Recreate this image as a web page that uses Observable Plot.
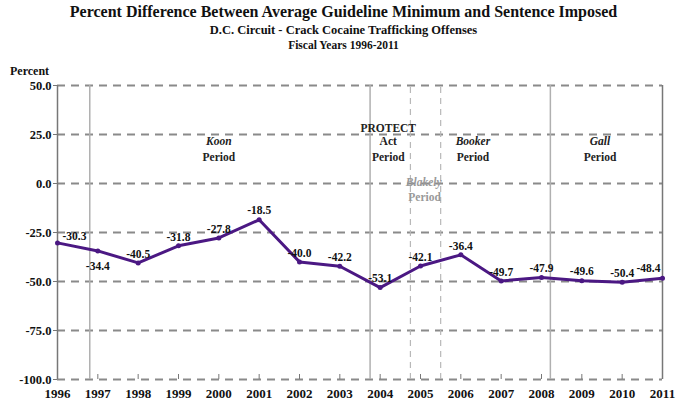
<!DOCTYPE html>
<html>
<head>
<meta charset="utf-8">
<script src="https://cdn.jsdelivr.net/npm/d3@7"></script>
<script src="https://cdn.jsdelivr.net/npm/@observablehq/plot@0.6"></script>
<style>
  body { margin: 0; background: #fff; }
  #wrap { position: relative; width: 677px; height: 403px; font-family: "Liberation Serif", "Times New Roman", serif; font-weight: bold; color: #111; }
  .t { position: absolute; left: 10px; width: 667px; text-align: center; white-space: nowrap; }
  #chart { position: absolute; left: 0; top: 58px; z-index: 1; }
  #ylab { position: absolute; left: 10px; top: 64px; font-size: 12px; z-index: 2; }
</style>
</head>
<body>
<div id="wrap">
  <div class="t" style="top:3px;font-size:16px;">Percent Difference Between Average Guideline Minimum and Sentence Imposed</div>
  <div class="t" style="top:23px;font-size:12.5px;">D.C. Circuit - Crack Cocaine Trafficking Offenses</div>
  <div class="t" style="top:39px;font-size:11.5px;">Fiscal Years 1996-2011</div>
  <div id="chart"></div>
  <div id="ylab">Percent</div>
</div>
<script>
const years = [1996,1997,1998,1999,2000,2001,2002,2003,2004,2005,2006,2007,2008,2009,2010,2011];
const values = [-30.3,-34.4,-40.5,-31.8,-27.8,-18.5,-40.0,-42.2,-53.1,-42.1,-36.4,-49.7,-47.9,-49.6,-50.4,-48.4];
const yTicks = [50,25,0,-25,-50,-75,-100];
const solidBreaks = [1996.8, 2003.75, 2008.22];
const dashedBreaks = [2004.75, 2005.5];
const periodItalic = [
  {x: 2000, y: 21.3, text: "Koon"},
  {x: 2006.3, y: 21.3, text: "Booker"},
  {x: 2009.45, y: 21.3, text: "Gall"}
];
const periodRoman = [
  {x: 2004.2, y: 28.4, text: "PROTECT"},
  {x: 2004.2, y: 21.3, text: "Act"},
  {x: 2000, y: 13.6, text: "Period"},
  {x: 2004.2, y: 13.6, text: "Period"},
  {x: 2006.3, y: 13.6, text: "Period"},
  {x: 2009.45, y: 13.6, text: "Period"}
];
const blakelyItalic = [{x: 2005.08, y: 0.4, text: "Blakely"}];
const blakelyRoman = [{x: 2005.1, y: -7.3, text: "Period"}];

const data = years.map((y, i) => ({year: y, value: values[i]}));
const fmt = v => v.toFixed(1);
const grid = "#8a8a8a";
const xMin = years[0], xMax = years[years.length - 1];
const serif = "'Liberation Serif', 'Times New Roman', serif";

const chart = Plot.plot({
  width: 677,
  height: 345,
  marginTop: 27,
  marginBottom: 24,
  marginLeft: 57,
  marginRight: 15,
  style: {fontFamily: serif, fontWeight: "bold", fontSize: "12px", color: "#111", background: "transparent"},
  x: {type: "linear", domain: [xMin, xMax], axis: null},
  y: {type: "linear", domain: [-100, 50], axis: null},
  marks: [
    // horizontal dashed gridlines
    Plot.ruleY(yTicks, {x1: xMin, x2: xMax, stroke: grid, strokeWidth: 2, strokeDasharray: "8,6"}),
    // period break lines
    Plot.ruleX(solidBreaks, {y1: -100, y2: 50, stroke: "#b0b0b0", strokeWidth: 1.5}),
    Plot.ruleX(dashedBreaks, {y1: -100, y2: 50, stroke: "#b8b8b8", strokeWidth: 1.2, strokeDasharray: "6,5"}),
    // left and right frame
    Plot.ruleX([xMin, xMax], {y1: -100, y2: 50, stroke: "#777", strokeWidth: 1.5}),
    // y ticks and labels
    Plot.axisY(yTicks, {tickSize: 4, tickFormat: fmt, stroke: "#777", fontFamily: serif, fontWeight: "bold", fontSize: 12.5, tickPadding: 2, label: null}),
    // x ticks and labels
    Plot.axisX(years, {anchor: "bottom", tickSize: -5, tickFormat: d => String(d), stroke: "#777", fontFamily: serif, fontWeight: "bold", fontSize: 13, tickPadding: 14, label: null}),
    // period annotations
    Plot.text(periodItalic, {x: "x", y: "y", text: "text", fontStyle: "italic", fontFamily: serif, fontWeight: "bold", fontSize: 11.5, fill: "#222"}),
    Plot.text(periodRoman, {x: "x", y: "y", text: "text", fontFamily: serif, fontWeight: "bold", fontSize: 11.5, fill: "#222"}),
    Plot.text(blakelyItalic, {x: "x", y: "y", text: "text", fontStyle: "italic", fontFamily: serif, fontWeight: "bold", fontSize: 11.5, fill: "#999"}),
    Plot.text(blakelyRoman, {x: "x", y: "y", text: "text", fontFamily: serif, fontWeight: "bold", fontSize: 11.5, fill: "#999"}),
    // data line
    Plot.line(data, {x: "year", y: "value", stroke: "#4b1883", strokeWidth: 3}),
    Plot.dot(data, {x: "year", y: "value", r: 2.5, fill: "#4b1883"}),
    // value labels
    Plot.text(data.filter(d => d.year !== 1997 && d.year !== 1996 && d.year !== 2011), {x: "year", y: "value", text: d => fmt(d.value), dy: -9, fontFamily: serif, fontWeight: "bold", fontSize: 11.5, fill: "#111"}),
    Plot.text(data.filter(d => d.year === 1997), {x: "year", y: "value", text: d => fmt(d.value), dy: 15, fontFamily: serif, fontWeight: "bold", fontSize: 11.5, fill: "#111"}),
    Plot.text(data.filter(d => d.year === 1996), {x: "year", y: "value", text: d => fmt(d.value), dy: -7, dx: 5, textAnchor: "start", fontFamily: serif, fontWeight: "bold", fontSize: 11.5, fill: "#111"}),
    Plot.text(data.filter(d => d.year === 2011), {x: "year", y: "value", text: d => fmt(d.value), dy: -10, dx: -2, textAnchor: "end", fontFamily: serif, fontWeight: "bold", fontSize: 11.5, fill: "#111"})
  ]
});
document.getElementById("chart").appendChild(chart);
</script>
</body>
</html>
